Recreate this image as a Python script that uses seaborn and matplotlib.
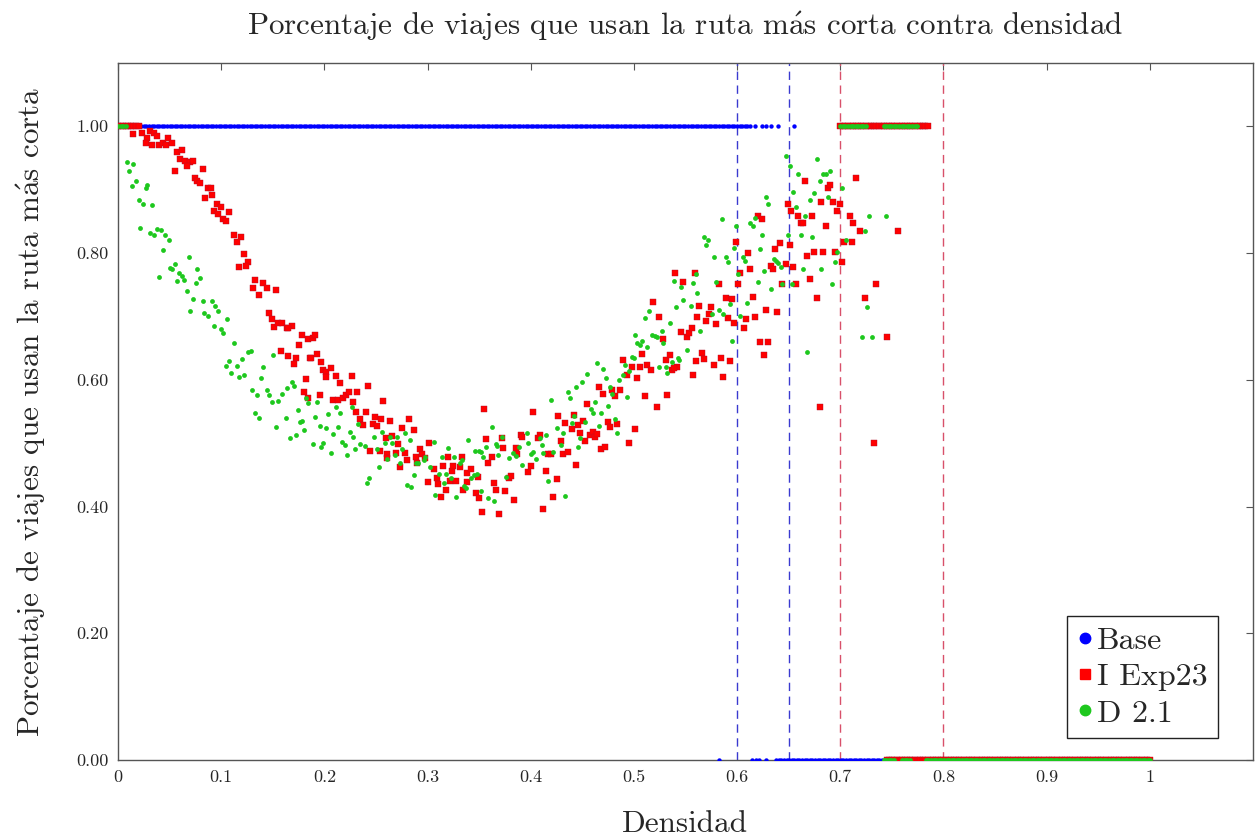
import numpy as np
import pandas as pd
import matplotlib
matplotlib.use("Agg")
import matplotlib.pyplot as plt
from matplotlib.lines import Line2D
import seaborn as sns

sns.set_style("white")
plt.rcParams['font.family'] = ['cmr10', 'DejaVu Serif']
plt.rcParams['axes.formatter.use_mathtext'] = True
plt.rcParams['mathtext.fontset'] = 'cm'

# density grid step of the sweep (saturated runs at 0 and 1)
STEP = 0.0025
def run(a, b): return list(np.round(np.arange(a, b + STEP / 2, STEP), 4))

# ---- Base: only saturated values ----
base_one_x = run(0.0, 0.612) + [0.617, 0.624, 0.628, 0.633, 0.640, 0.655]
base_zero_x = [0.582, 0.614, 0.618, 0.621, 0.628] + run(0.638, 0.742)

# ---- I Exp23 scattered values ----
iexp_x = [0.015, 0.023, 0.028, 0.027, 0.031, 0.035, 0.038, 0.033, 0.040, 0.044, 0.048, 0.047, 0.052, 0.057,
          0.062, 0.060, 0.065, 0.070, 0.073, 0.067, 0.055, 0.082, 0.075, 0.077, 0.079, 0.087, 0.090, 0.091,
          0.084, 0.096, 0.100, 0.093, 0.097, 0.102, 0.105, 0.108, 0.112, 0.119, 0.115, 0.122, 0.126, 0.117,
          0.124, 0.133, 0.141, 0.144, 0.131, 0.137, 0.153, 0.146, 0.149, 0.151, 0.155, 0.159, 0.164, 0.169,
          0.165, 0.178, 0.184, 0.189, 0.175, 0.158, 0.165, 0.173, 0.186, 0.171, 0.182, 0.180, 0.184,
          0.191, 0.187, 0.193, 0.197, 0.199, 0.202, 0.206, 0.202, 0.211, 0.215, 0.227, 0.242, 0.196, 0.208,
          0.213, 0.218, 0.221, 0.224, 0.228, 0.232, 0.257, 0.231, 0.240, 0.235, 0.237, 0.247, 0.249, 0.251,
          0.255, 0.264, 0.282, 0.275, 0.287, 0.260, 0.266, 0.271, 0.244, 0.254, 0.261, 0.269, 0.278, 0.261,
          0.280, 0.273, 0.289, 0.293, 0.295, 0.298, 0.301, 0.290, 0.306, 0.315, 0.320, 0.324, 0.325, 0.333,
          0.331, 0.338, 0.342, 0.349, 0.355, 0.357, 0.362, 0.359, 0.309, 0.310, 0.300, 0.318, 0.313, 0.322,
          0.328, 0.338, 0.334, 0.347, 0.350, 0.364, 0.366, 0.353, 0.369,
          0.375, 0.384, 0.372, 0.373, 0.379, 0.381, 0.386, 0.387, 0.391, 0.392, 0.397, 0.400, 0.402, 0.407,
          0.409, 0.412, 0.415, 0.417, 0.420, 0.422, 0.425, 0.426, 0.429, 0.431, 0.433, 0.436, 0.440, 0.442,
          0.444, 0.446, 0.448, 0.451, 0.453, 0.455, 0.457, 0.460, 0.462, 0.464, 0.466, 0.468, 0.470, 0.472,
          0.475, 0.477, 0.479, 0.482, 0.484, 0.487, 0.489, 0.493, 0.495, 0.498, 0.501, 0.503, 0.506, 0.508,
          0.511, 0.513, 0.517, 0.519, 0.522, 0.524, 0.528, 0.531, 0.532, 0.535, 0.537, 0.540, 0.542,
          0.539, 0.546, 0.548, 0.551, 0.553, 0.556, 0.557, 0.559, 0.560, 0.561, 0.563, 0.566, 0.568, 0.570,
          0.573, 0.575, 0.578, 0.580, 0.582, 0.584, 0.586, 0.589, 0.591, 0.593, 0.595, 0.597, 0.599, 0.601,
          0.603, 0.607, 0.609, 0.611, 0.613, 0.615, 0.617, 0.620, 0.622, 0.624, 0.626, 0.628, 0.630, 0.633,
          0.635, 0.637, 0.639, 0.642, 0.644, 0.647, 0.649, 0.651, 0.652, 0.654, 0.657, 0.659, 0.662, 0.664,
          0.666, 0.668, 0.671, 0.673, 0.675, 0.677, 0.680, 0.681, 0.683, 0.686, 0.688, 0.690, 0.693, 0.695,
          0.697, 0.700, 0.702, 0.704, 0.709, 0.711, 0.712, 0.715, 0.719, 0.724, 0.733, 0.735, 0.745, 0.756]
iexp_y = [0.988, 0.989, 0.981, 0.973, 0.992, 0.989, 0.984, 0.970, 0.970, 0.973, 0.982, 0.971, 0.973, 0.959,
          0.962, 0.948, 0.945, 0.943, 0.945, 0.938, 0.929, 0.932, 0.919, 0.913, 0.911, 0.902, 0.902, 0.892,
          0.886, 0.878, 0.872, 0.867, 0.862, 0.854, 0.850, 0.864, 0.828, 0.826, 0.818, 0.799, 0.786, 0.778,
          0.779, 0.758, 0.752, 0.745, 0.744, 0.733, 0.742, 0.706, 0.696, 0.684, 0.690, 0.690, 0.682, 0.685,
          0.681, 0.671, 0.665, 0.666, 0.655, 0.646, 0.638, 0.635, 0.634, 0.625, 0.601, 0.581, 0.571,
          0.671, 0.635, 0.641, 0.628, 0.615, 0.612, 0.619, 0.604, 0.606, 0.595, 0.606, 0.590, 0.576, 0.568,
          0.568, 0.571, 0.576, 0.581, 0.565, 0.581, 0.566, 0.549, 0.549, 0.538, 0.528, 0.530, 0.541, 0.527,
          0.538, 0.535, 0.538, 0.524, 0.521, 0.508, 0.511, 0.498, 0.487, 0.487, 0.483, 0.484, 0.484, 0.476,
          0.474, 0.462, 0.478, 0.491, 0.483, 0.476, 0.500, 0.468, 0.460, 0.464, 0.478, 0.456, 0.464, 0.478,
          0.462, 0.453, 0.459, 0.446, 0.554, 0.506, 0.478, 0.468, 0.445, 0.435, 0.438, 0.426, 0.415, 0.440,
          0.440, 0.438, 0.426, 0.422, 0.414, 0.437, 0.426, 0.391, 0.389,
          0.424, 0.411, 0.508, 0.492, 0.445, 0.448, 0.492, 0.483, 0.513, 0.510, 0.454, 0.464, 0.549, 0.508,
          0.513, 0.396, 0.456, 0.483, 0.483, 0.415, 0.443, 0.543, 0.503, 0.483, 0.532, 0.486, 0.522, 0.544,
          0.465, 0.529, 0.516, 0.535, 0.503, 0.562, 0.513, 0.518, 0.510, 0.514, 0.589, 0.490, 0.578, 0.494,
          0.533, 0.526, 0.584, 0.575, 0.530, 0.584, 0.631, 0.608, 0.500, 0.620, 0.522, 0.603, 0.620, 0.641,
          0.574, 0.623, 0.616, 0.723, 0.557, 0.699, 0.665, 0.631, 0.576, 0.639, 0.616, 0.769, 0.620,
          0.619, 0.676, 0.754, 0.667, 0.673, 0.682, 0.608, 0.769, 0.630, 0.699, 0.717, 0.642, 0.633, 0.693,
          0.704, 0.715, 0.623, 0.688, 0.751, 0.634, 0.604, 0.729, 0.698, 0.630, 0.727, 0.690, 0.818, 0.751,
          0.769, 0.682, 0.696, 0.800, 0.774, 0.730, 0.699, 0.858, 0.660, 0.854, 0.639, 0.710, 0.660, 0.780,
          0.774, 0.806, 0.707, 0.816, 0.751, 0.782, 0.877, 0.812, 0.867, 0.778, 0.751, 0.858, 0.848, 0.848,
          0.913, 0.795, 0.759, 0.858, 0.801, 0.729, 0.557, 0.880, 0.801, 0.843, 0.902, 0.907, 0.880, 0.801,
          0.867, 0.877, 0.786, 0.818, 0.858, 0.818, 0.848, 0.918, 0.834, 0.729, 0.500, 0.751, 0.668, 0.834]
iexp_one_x = run(0.0, 0.021) + run(0.700, 0.786)
iexp_zero_x = run(0.745, 1.0)

# ---- D 2.1 scattered values ----
d21_x = [0.009, 0.015, 0.011, 0.017, 0.014, 0.027, 0.028, 0.020, 0.024, 0.033, 0.021, 0.031, 0.035, 0.038,
         0.042, 0.046, 0.049, 0.044, 0.069, 0.055, 0.050, 0.052, 0.059, 0.077, 0.062, 0.040, 0.064, 0.057,
         0.079, 0.076, 0.067, 0.073, 0.082, 0.091, 0.070, 0.094, 0.097, 0.083, 0.087, 0.093, 0.100, 0.102,
         0.106, 0.112, 0.126, 0.129, 0.120, 0.108, 0.105, 0.115, 0.110, 0.122, 0.117, 0.141, 0.139, 0.150,
         0.130, 0.135, 0.144, 0.146, 0.149, 0.155, 0.159, 0.164, 0.169, 0.171, 0.133, 0.137, 0.153, 0.163,
         0.174, 0.182, 0.178, 0.173, 0.167, 0.180,
         0.184, 0.193, 0.176, 0.191, 0.189, 0.196, 0.202, 0.204, 0.211, 0.215, 0.208, 0.213, 0.199, 0.197,
         0.206, 0.217, 0.220, 0.222, 0.225, 0.227, 0.228, 0.230, 0.233, 0.235, 0.239, 0.248, 0.251, 0.256,
         0.259, 0.261, 0.264, 0.266, 0.270, 0.268, 0.273, 0.275, 0.278, 0.283, 0.253, 0.243, 0.241, 0.280,
         0.284, 0.287, 0.289, 0.291, 0.297, 0.298, 0.302, 0.306, 0.307, 0.311, 0.314, 0.316, 0.318, 0.320,
         0.323, 0.326, 0.328, 0.331, 0.333, 0.335, 0.337, 0.339, 0.342, 0.345, 0.348, 0.346, 0.350, 0.352,
         0.354, 0.359, 0.362, 0.364, 0.366, 0.368,
         0.352, 0.357, 0.367, 0.372, 0.376, 0.379, 0.383, 0.386, 0.389, 0.392, 0.396, 0.397, 0.400, 0.402,
         0.405, 0.409, 0.411, 0.412, 0.415, 0.417, 0.420, 0.422, 0.425, 0.429, 0.431, 0.433, 0.436, 0.438,
         0.440, 0.442, 0.444, 0.446, 0.448, 0.450, 0.453, 0.455, 0.458, 0.460, 0.462, 0.464, 0.466, 0.468,
         0.470, 0.473, 0.475, 0.477, 0.479, 0.482, 0.484, 0.486, 0.489, 0.491, 0.493, 0.495, 0.498, 0.500,
         0.501, 0.503, 0.506, 0.508, 0.511, 0.513, 0.515, 0.518, 0.520, 0.522, 0.524, 0.527, 0.528, 0.531,
         0.532, 0.535, 0.537, 0.539, 0.541, 0.543,
         0.544, 0.546, 0.548, 0.551, 0.555, 0.557, 0.560, 0.561, 0.564, 0.568, 0.570, 0.572, 0.576, 0.578,
         0.580, 0.582, 0.585, 0.586, 0.589, 0.591, 0.593, 0.595, 0.597, 0.599, 0.601, 0.603, 0.606, 0.608,
         0.610, 0.613, 0.615, 0.617, 0.620, 0.622, 0.624, 0.626, 0.628, 0.630, 0.633, 0.636, 0.638, 0.640,
         0.643, 0.644, 0.647, 0.649, 0.651, 0.653, 0.654, 0.657, 0.659, 0.662, 0.664, 0.666, 0.668, 0.671,
         0.673, 0.675, 0.677, 0.680, 0.681, 0.683, 0.686, 0.688, 0.690, 0.692, 0.695, 0.697, 0.702, 0.706,
         0.721, 0.724, 0.726, 0.728, 0.731, 0.744]
d21_y = [0.943, 0.941, 0.929, 0.913, 0.905, 0.903, 0.908, 0.884, 0.877, 0.875, 0.840, 0.832, 0.828, 0.838,
         0.837, 0.828, 0.820, 0.805, 0.793, 0.783, 0.777, 0.775, 0.769, 0.775, 0.763, 0.762, 0.757, 0.756,
         0.761, 0.753, 0.740, 0.727, 0.724, 0.725, 0.709, 0.716, 0.708, 0.706, 0.700, 0.685, 0.680, 0.674,
         0.696, 0.658, 0.644, 0.646, 0.633, 0.630, 0.622, 0.622, 0.611, 0.608, 0.604, 0.620, 0.603, 0.639,
         0.584, 0.576, 0.584, 0.576, 0.565, 0.566, 0.577, 0.587, 0.597, 0.590, 0.547, 0.540, 0.525, 0.539,
         0.552, 0.571, 0.535, 0.513, 0.508, 0.521,
         0.563, 0.565, 0.533, 0.541, 0.498, 0.527, 0.524, 0.546, 0.557, 0.547, 0.514, 0.525, 0.500, 0.494,
         0.484, 0.502, 0.497, 0.481, 0.517, 0.557, 0.509, 0.490, 0.531, 0.498, 0.495, 0.509, 0.490, 0.517,
         0.501, 0.475, 0.509, 0.501, 0.509, 0.481, 0.468, 0.490, 0.516, 0.505, 0.462, 0.445, 0.437, 0.434,
         0.431, 0.449, 0.468, 0.468, 0.473, 0.478, 0.462, 0.502, 0.418, 0.451, 0.478, 0.437, 0.451, 0.492,
         0.445, 0.478, 0.415, 0.468, 0.473, 0.432, 0.430, 0.505, 0.445, 0.449, 0.451, 0.487, 0.487, 0.424,
         0.478, 0.413, 0.525, 0.408, 0.498, 0.481,
         0.486, 0.494, 0.495, 0.510, 0.446, 0.476, 0.484, 0.479, 0.494, 0.465, 0.516, 0.500, 0.483, 0.486,
         0.475, 0.508, 0.497, 0.484, 0.513, 0.441, 0.568, 0.486, 0.524, 0.497, 0.516, 0.416, 0.581, 0.572,
         0.532, 0.543, 0.589, 0.494, 0.508, 0.597, 0.533, 0.609, 0.554, 0.547, 0.565, 0.626, 0.527, 0.547,
         0.617, 0.603, 0.559, 0.589, 0.578, 0.538, 0.516, 0.600, 0.608, 0.623, 0.573, 0.614, 0.636, 0.635,
         0.671, 0.658, 0.655, 0.661, 0.698, 0.652, 0.709, 0.671, 0.669, 0.668, 0.620, 0.677, 0.658, 0.620,
         0.611, 0.690, 0.628, 0.756, 0.715, 0.635,
         0.631, 0.747, 0.726, 0.647, 0.717, 0.753, 0.767, 0.737, 0.677, 0.826, 0.812, 0.820, 0.703, 0.794,
         0.755, 0.710, 0.854, 0.704, 0.794, 0.786, 0.720, 0.661, 0.808, 0.843, 0.767, 0.700, 0.794, 0.788,
         0.721, 0.848, 0.842, 0.856, 0.755, 0.806, 0.828, 0.772, 0.888, 0.877, 0.743, 0.791, 0.788, 0.785,
         0.778, 0.751, 0.953, 0.829, 0.938, 0.751, 0.897, 0.872, 0.924, 0.829, 0.774, 0.858, 0.644, 0.884,
         0.826, 0.894, 0.949, 0.913, 0.774, 0.924, 0.924, 0.888, 0.929, 0.751, 0.786, 0.801, 0.902, 0.820,
         0.668, 0.834, 0.715, 0.858, 0.668, 0.858]
d21_one_x = run(0.0, 0.008) + run(0.700, 0.725) + run(0.742, 0.775)
d21_zero_x = run(0.742, 0.753) + run(0.760, 0.768) + run(0.783, 1.0)

# transition thresholds
blue_lines = [0.6, 0.65]
red_lines = [0.7, 0.8]

xticks = [0, 0.1, 0.2, 0.3, 0.4, 0.5, 0.6, 0.7, 0.8, 0.9, 1]
xticklabels = ["0", "0.1", "0.2", "0.3", "0.4", "0.5", "0.6", "0.7", "0.8", "0.9", "1"]
yticks = [0, 0.2, 0.4, 0.6, 0.8, 1.0]
yticklabels = ["0.00", "0.20", "0.40", "0.60", "0.80", "1.00"]

BLUE, RED, GREEN = "#0000ff", "#ff0000", "#1ec81e"
MAS = r"m$\mathrm{\acute{a}}$s"

base = pd.DataFrame({"x": base_one_x + base_zero_x,
                     "y": [1.0] * len(base_one_x) + [0.0] * len(base_zero_x)})
iexp = pd.DataFrame({"x": iexp_x + iexp_one_x + iexp_zero_x,
                     "y": iexp_y + [1.0] * len(iexp_one_x) + [0.0] * len(iexp_zero_x)})
d21 = pd.DataFrame({"x": d21_x + d21_one_x + d21_zero_x,
                    "y": d21_y + [1.0] * len(d21_one_x) + [0.0] * len(d21_zero_x)})

fig, ax = plt.subplots(figsize=(12.58, 8.38), dpi=100)
fig.subplots_adjust(left=0.0938, right=0.996, bottom=0.093, top=0.925)

for v in blue_lines:
    ax.axvline(v, color="#3a3ad0", ls=(0, (6, 4)), lw=1.0, zorder=1)
for v in red_lines:
    ax.axvline(v, color="#d8506a", ls=(0, (6, 4)), lw=1.0, zorder=1)

sns.scatterplot(data=base, x="x", y="y", ax=ax, color=BLUE, marker="o", s=10,
                linewidth=0, legend=False, zorder=3)
sns.scatterplot(data=iexp, x="x", y="y", ax=ax, color=RED, marker="s", s=19,
                linewidth=0.3, edgecolor="#b0102a", legend=False, zorder=4)
sns.scatterplot(data=d21, x="x", y="y", ax=ax, color=GREEN, marker="o", s=12,
                linewidth=0, legend=False, zorder=5)

ax.set_xlim(0, 1.1)
ax.set_ylim(0, 1.1)
ax.set_xticks(xticks)
ax.set_xticklabels(xticklabels)
ax.set_yticks(yticks)
ax.set_yticklabels(yticklabels)
ax.tick_params(direction="in", length=5, width=0.8, color="#555555", labelsize=13,
               top=True, right=True, pad=7)
for sp in ax.spines.values():
    sp.set_color("#555555")
    sp.set_linewidth(1.0)

ax.set_title(f"Porcentaje de viajes que usan la ruta {MAS} corta contra densidad", fontsize=22.4, pad=20)
ax.set_xlabel("Densidad", fontsize=22.4, labelpad=18)
ax.set_ylabel(f"Porcentaje de viajes que usan la ruta {MAS} corta", fontsize=22.4, labelpad=20)

handles = [Line2D([], [], ls="none", marker="o", color=BLUE, markersize=7.5),
           Line2D([], [], ls="none", marker="s", color=RED, markersize=7.5),
           Line2D([], [], ls="none", marker="o", color=GREEN, markersize=7.5)]
leg = ax.legend(handles, ["Base", "I Exp23", "D 2.1"], loc="lower right",
                bbox_to_anchor=(0.969, 0.032), borderaxespad=0, fontsize=23,
                fancybox=False, framealpha=1, edgecolor="#222222", handlelength=0.5,
                handletextpad=0.12, labelspacing=0.25, borderpad=0.32)
leg.get_frame().set_linewidth(1.0)

fig.savefig("out.png", dpi=100)
